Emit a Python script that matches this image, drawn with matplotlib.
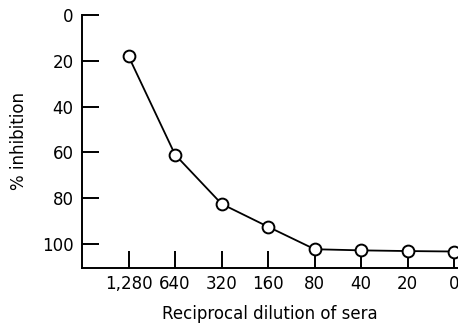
import matplotlib
matplotlib.use("Agg")
import matplotlib.pyplot as plt

dilutions = ["1,280", "640", "320", "160", "80", "40", "20", "0"]
inhibition = [18, 61, 82.5, 92.5, 102.3, 102.8, 103.1, 103.3]
yticks = [0, 20, 40, 60, 80, 100]

plt.rcParams['font.family'] = ['DejaVu Sans']
fig = plt.figure(figsize=(4.58, 3.23), dpi=100)
ax = fig.add_axes([82/458, 1-268/323, 1-82/458, (268-15)/323])
x = list(range(len(dilutions)))
ax.plot(x, inhibition, color='black', lw=1.3, marker='o', markersize=8.5,
        markerfacecolor='white', markeredgecolor='black', markeredgewidth=1.4,
        clip_on=False, zorder=3)
ax.set_xlim(-1, 7.08)
ax.set_ylim(110.5, 0)
ax.set_xticks(x)
ax.set_xticklabels(dilutions)
ax.set_yticks(yticks)
ax.tick_params(direction='in', length=12, width=1.4, labelsize=12, pad=5)
ax.tick_params(axis='y', pad=6)
for s in ['top', 'right']:
    ax.spines[s].set_visible(False)
for s in ['left', 'bottom']:
    ax.spines[s].set_linewidth(1.4)
ax.set_ylabel('% inhibition', fontsize=12, labelpad=10)
ax.set_xlabel('Reciprocal dilution of sera', fontsize=12, labelpad=9)
fig.savefig('out.png', dpi=100)
